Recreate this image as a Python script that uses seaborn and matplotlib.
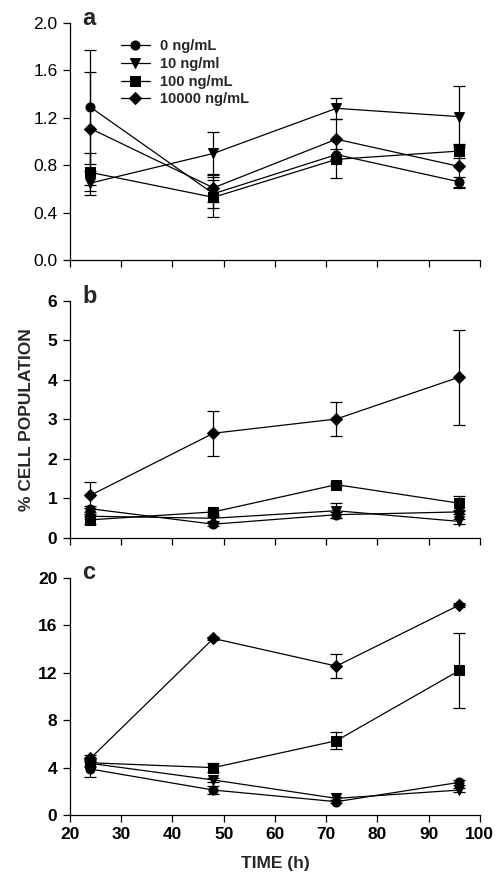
import pandas as pd
import numpy as np
import matplotlib.pyplot as plt
import seaborn as sns

sns.set_theme(style="ticks")
plt.rcParams['font.family'] = ['Liberation Sans', 'DejaVu Sans']

time_h = [24, 48, 72, 96]
doses = ['0 ng/mL', '10 ng/ml', '100 ng/mL', '10000 ng/mL']
marker_map = {'0 ng/mL': 'o', '10 ng/ml': 'v', '100 ng/mL': 's', '10000 ng/mL': 'D'}

# panel a
a_0 = [1.29, 0.56, 0.89, 0.66]
a_10 = [0.65, 0.90, 1.28, 1.21]
a_100 = [0.74, 0.53, 0.85, 0.92]
a_10000 = [1.11, 0.61, 1.02, 0.79]
a_err_0 = [0.48, 0.12, 0.05, 0.04]
a_err_10 = [0.10, 0.18, 0.09, 0.26]
a_err_100 = [0.16, 0.17, 0.16, 0.06]
a_err_10000 = [0.48, 0.12, 0.17, 0.18]

# panel b
b_0 = [0.74, 0.35, 0.59, 0.66]
b_10 = [0.55, 0.50, 0.69, 0.42]
b_100 = [0.46, 0.66, 1.35, 0.88]
b_10000 = [1.08, 2.65, 3.01, 4.07]
b_err_0 = [0.08, 0.05, 0.08, 0.05]
b_err_10 = [0.06, 0.06, 0.19, 0.06]
b_err_100 = [0.10, 0.06, 0.04, 0.19]
b_err_10000 = [0.33, 0.57, 0.43, 1.20]

# panel c
c_0 = [3.87, 2.10, 1.12, 2.75]
c_10 = [4.35, 2.95, 1.40, 2.10]
c_100 = [4.40, 3.99, 6.26, 12.18]
c_10000 = [4.77, 14.88, 12.55, 17.70]
c_err_0 = [0.65, 0.35, 0.12, 0.20]
c_err_10 = [0.30, 0.20, 0.15, 0.20]
c_err_100 = [0.30, 0.40, 0.70, 3.15]
c_err_10000 = [0.30, 0.15, 1.02, 0.15]

panels = [
    ('a', [a_0, a_10, a_100, a_10000], [a_err_0, a_err_10, a_err_100, a_err_10000], 2.0, np.arange(0, 2.01, 0.4), '{:.1f}'),
    ('b', [b_0, b_10, b_100, b_10000], [b_err_0, b_err_10, b_err_100, b_err_10000], 6, np.arange(0, 7, 1), '{:.0f}'),
    ('c', [c_0, c_10, c_100, c_10000], [c_err_0, c_err_10, c_err_100, c_err_10000], 20, np.arange(0, 21, 4), '{:.0f}'),
]

fig = plt.figure(figsize=(5.03, 8.82), dpi=100)
bottoms = [0.705, 0.390, 0.076]
axes = [fig.add_axes([0.139, b, 0.815, 0.269]) for b in bottoms]

for ax, (lab, vals, errs, ymax, yt, fmt) in zip(axes, panels):
    rows = []
    for d, v in zip(doses, vals):
        for t, y in zip(time_h, v):
            rows.append({'Time': t, 'Value': y, 'Dose': d})
    df = pd.DataFrame(rows)
    for d, v, e in zip(doses, vals, errs):
        ax.errorbar(time_h, v, yerr=e, fmt='none', ecolor='black', elinewidth=0.9, capsize=4, capthick=0.9, zorder=1)
    sns.lineplot(data=df, x='Time', y='Value', style='Dose', markers=marker_map, dashes=False,
                 color='black', linewidth=0.9, markersize=6.5, markeredgecolor='black',
                 ax=ax, legend=(lab == 'a'), zorder=3)
    ax.set_xlim(20, 100)
    ax.set_ylim(0, ymax)
    ax.set_xticks(np.arange(20, 101, 10))
    ax.set_yticks(yt)
    ax.set_yticklabels([fmt.format(t) for t in yt], fontsize=12.5,
                       fontweight='normal' if lab == 'a' else 'bold')
    ax.set_xlabel('')
    ax.set_ylabel('')
    if lab == 'c':
        ax.set_xticklabels([str(t) for t in range(20, 101, 10)], fontsize=12.5, fontweight='bold')
        ax.set_xlabel('TIME (h)', fontsize=12.5, fontweight='bold', labelpad=10)
    else:
        ax.set_xticklabels([])
    ax.tick_params(direction='out', length=5, width=0.9, colors='black', pad=4)
    sns.despine(ax=ax)
    for s in ['left', 'bottom']:
        ax.spines[s].set_color('black')
        ax.spines[s].set_linewidth(0.9)
    ax.text(0.03, 1.02, lab, transform=ax.transAxes, fontsize=17, fontweight='bold', va='center', ha='left')

leg = axes[0].legend(loc='upper left', bbox_to_anchor=(0.11, 0.955), frameon=False,
                     prop={'weight': 'bold', 'size': 10.5}, handlelength=2.0,
                     labelspacing=0.25, handletextpad=0.7, borderaxespad=0)
for h in leg.legend_handles:
    h.set_color('black')

axes[1].set_ylabel('% CELL POPULATION', fontsize=12.5, fontweight='bold', labelpad=10)

fig.savefig('out.png', dpi=100)
